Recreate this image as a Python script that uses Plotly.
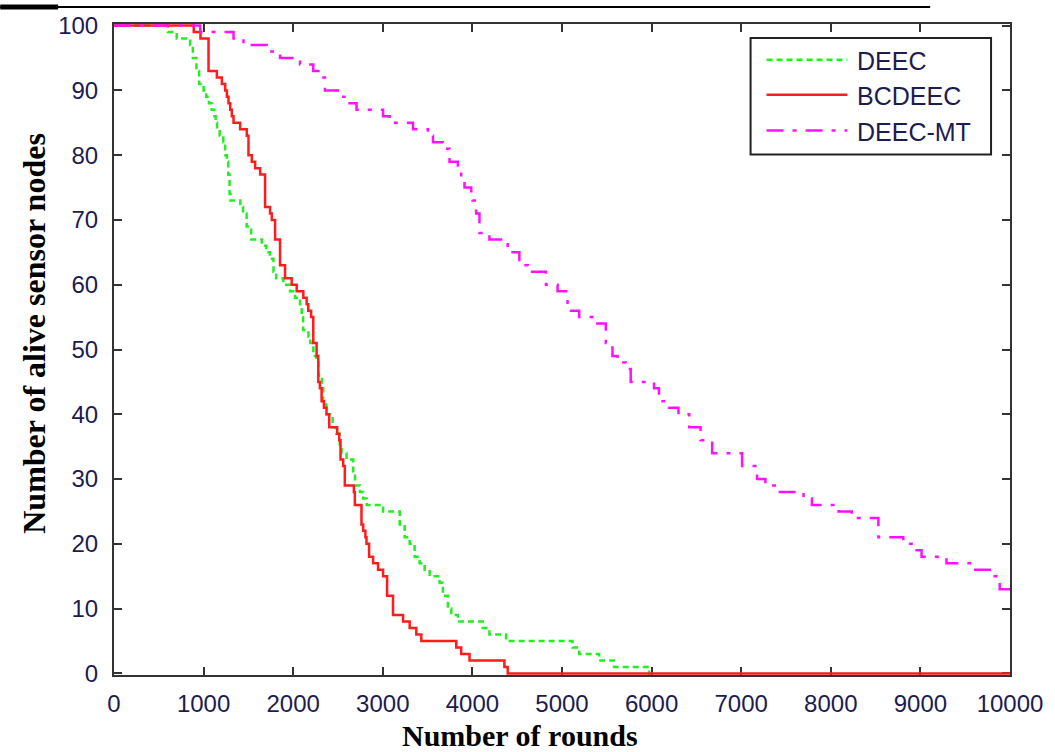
import plotly.graph_objects as go

# ---------------- data ----------------
deec_rounds = [0, 600, 700, 850, 880, 920, 950, 1000, 1030, 1060, 1090, 1120, 1135, 1150,
               1180, 1220, 1240, 1260, 1275, 1290, 1300, 1410, 1440, 1480, 1530, 1650, 1700,
               1740, 1780, 1810, 1890, 1965, 2020, 2076, 2095, 2110, 2170, 2190, 2225, 2260,
               2280, 2320, 2335, 2370, 2440, 2480, 2520, 2540, 2595, 2670, 2690, 2745, 2780,
               2820, 3003, 3189, 3244, 3300, 3355, 3411, 3467, 3523, 3634, 3671, 3727, 3764,
               3838, 4116, 4190, 4376, 5117, 5192, 5414, 5581, 5971, 6000]
deec_alive = [100, 99, 98, 97, 95, 93, 91, 90, 89, 88, 87, 86, 85, 84,
              83, 82, 80, 79, 77, 74, 73, 72, 71, 69, 67, 66, 65,
              64, 62, 61, 60, 59, 58, 57, 55, 53, 52, 51, 49, 48,
              46, 44, 42, 40, 38, 37, 35, 34, 33, 31, 29, 28, 27,
              26, 25, 23, 21, 20, 18, 17, 16, 15, 14, 12, 10, 9,
              8, 7, 6, 5, 4, 3, 2, 1, 0, 0]

bcdeec_rounds = [0, 890, 965, 1055, 1148, 1204, 1241, 1260, 1278, 1297, 1315, 1334, 1408,
                 1482, 1501, 1538, 1575, 1631, 1686, 1742, 1761, 1798, 1853, 1909, 1983,
                 2039, 2113, 2150, 2168, 2200, 2224, 2261, 2280, 2298, 2317, 2343, 2372,
                 2402, 2491, 2514, 2528, 2558, 2576, 2677, 2688, 2762, 2781, 2806, 2818,
                 2847, 2892, 2947, 3003, 3048, 3114, 3226, 3300, 3374, 3430, 3820, 3875,
                 3968, 4357, 4394, 10000]
bcdeec_alive = [100, 99, 98, 93, 92, 91, 90, 89, 88, 87, 86, 85, 84,
                83, 80, 79, 78, 77, 72, 71, 70, 67, 63, 61, 60,
                59, 58, 57, 56, 55, 51, 49, 45, 44, 42, 41, 40,
                38, 37, 36, 33, 32, 29, 28, 26, 23, 22, 21, 20,
                18, 17, 16, 15, 12, 9, 8, 7, 6, 5, 4, 3,
                2, 1, 0, 0]

deecmt_rounds = [0, 963, 1334, 1445, 1705, 1853, 2076, 2224, 2298, 2354, 2558, 2595, 2707,
                 3003, 3077, 3337, 3504, 3560, 3671, 3745, 3838, 3875, 3912, 3987, 4000,
                 4042, 4079, 4190, 4394, 4524, 4617, 4821, 4951, 5062, 5100, 5192, 5359,
                 5489, 5563, 5620, 5712, 5767, 6027, 6082, 6194, 6300, 6420, 6546, 6676,
                 7010, 7177, 7270, 7400, 7696, 7789, 8086, 8234, 8531, 8809, 8920, 9013,
                 9291, 9588, 9800, 9885, 10000]
deecmt_alive = [100, 99, 98, 97, 96, 95, 94, 93, 92, 90, 89, 88, 87,
                86, 85, 84, 83, 82, 81, 79, 78, 76, 75, 74, 73,
                71, 68, 67, 65, 63, 62, 60, 59, 57, 56, 55, 54,
                51, 49, 48, 47, 45, 44, 42, 41, 40, 38, 36, 34,
                32, 30, 29, 28, 27, 26, 25, 24, 21, 20, 19, 18,
                17, 16, 15, 13, 13]

x_ticks = list(range(0, 10001, 1000))
y_ticks = list(range(0, 101, 10))

series_names = ["DEEC", "BCDEEC", "DEEC-MT"]
series_colors = ["#22ee22", "#ff1c1c", "#ff10ff"]
series_dash = ["6px,4px", "solid", "17px,9px,4px,9px"]
series_width = [2.5, 2.5, 2.5]

# ---------------- layout geometry ----------------
W, H = 1055, 752
ML, MR, MT, MB = 114, 43, 21, 77
PW, PH = W - ML - MR, H - MT - MB


def px(xp):
    return (xp - ML) / PW


def py(yp):
    return (H - MB - yp) / PH


tick_font = dict(family="Liberation Sans, Arial, sans-serif", size=24, color="#1c1c50")

fig = go.Figure()
data = [(deec_rounds, deec_alive), (bcdeec_rounds, bcdeec_alive), (deecmt_rounds, deecmt_alive)]
for (xs, ys), name, col, dash, wd in zip(data, series_names, series_colors, series_dash, series_width):
    fig.add_trace(go.Scatter(x=xs, y=ys, name=name, mode="lines", line_shape="hv",
                             line=dict(color=col, width=wd, dash=dash), showlegend=False))

axis_common = dict(showline=True, linewidth=2, linecolor="#333333", mirror="ticks",
                   ticks="inside", ticklen=8, tickwidth=2, tickcolor="#333333",
                   showgrid=False, zeroline=False, tickfont=tick_font, layer="below traces")

fig.update_xaxes(range=[0, 10000], tickvals=x_ticks, ticktext=[str(v) for v in x_ticks],
                 ticklabelstandoff=6, **axis_common)
fig.update_yaxes(range=[-0.25, 100.25], tickvals=y_ticks, ticktext=[str(v) for v in y_ticks],
                 ticklabelstandoff=9, **axis_common)

shapes = []
annotations = []

# manual legend
shapes.append(dict(type="rect", xref="paper", yref="paper", x0=px(752), x1=px(993),
                   y0=py(152), y1=py(35), line=dict(color="#222222", width=2),
                   fillcolor="white", layer="above"))
leg_y = [57, 92, 128]
for name, col, dash, wd, yy in zip(series_names, series_colors, series_dash, series_width, leg_y):
    shapes.append(dict(type="line", xref="paper", yref="paper", x0=px(768), x1=px(849),
                       y0=py(yy), y1=py(yy), line=dict(color=col, width=wd, dash=dash)))
    annotations.append(dict(text=name, xref="paper", yref="paper", x=px(857), y=py(yy + 1),
                            xanchor="left", yanchor="middle", showarrow=False,
                            font=dict(family="Liberation Sans, Arial, sans-serif", size=25,
                                      color="#1c1c50")))

# axis titles
serif = "Liberation Serif, Times New Roman, serif"
annotations.append(dict(text="<b>Number of rounds</b>", xref="paper", yref="paper",
                        x=px(521), y=py(736), xanchor="center", yanchor="middle",
                        showarrow=False, font=dict(family=serif, size=30, color="black")))
annotations.append(dict(text="<b>Number of alive sensor nodes</b>", xref="paper", yref="paper",
                        x=px(33), y=py(332), xanchor="center", yanchor="middle", textangle=-90,
                        showarrow=False, font=dict(family=serif, size=32, color="black")))

# cropped rule at the very top of the picture
shapes.append(dict(type="line", xref="paper", yref="paper", x0=px(0), x1=px(932),
                   y0=py(4), y1=py(4), line=dict(color="black", width=2)))
shapes.append(dict(type="line", xref="paper", yref="paper", x0=px(0), x1=px(58),
                   y0=py(4), y1=py(4), line=dict(color="black", width=5)))

fig.update_layout(width=W, height=H, autosize=False,
                  margin=dict(l=ML, r=MR, t=MT, b=MB, pad=0),
                  paper_bgcolor="white", plot_bgcolor="white",
                  shapes=shapes, annotations=annotations, showlegend=False)

fig.write_html("out.html")
